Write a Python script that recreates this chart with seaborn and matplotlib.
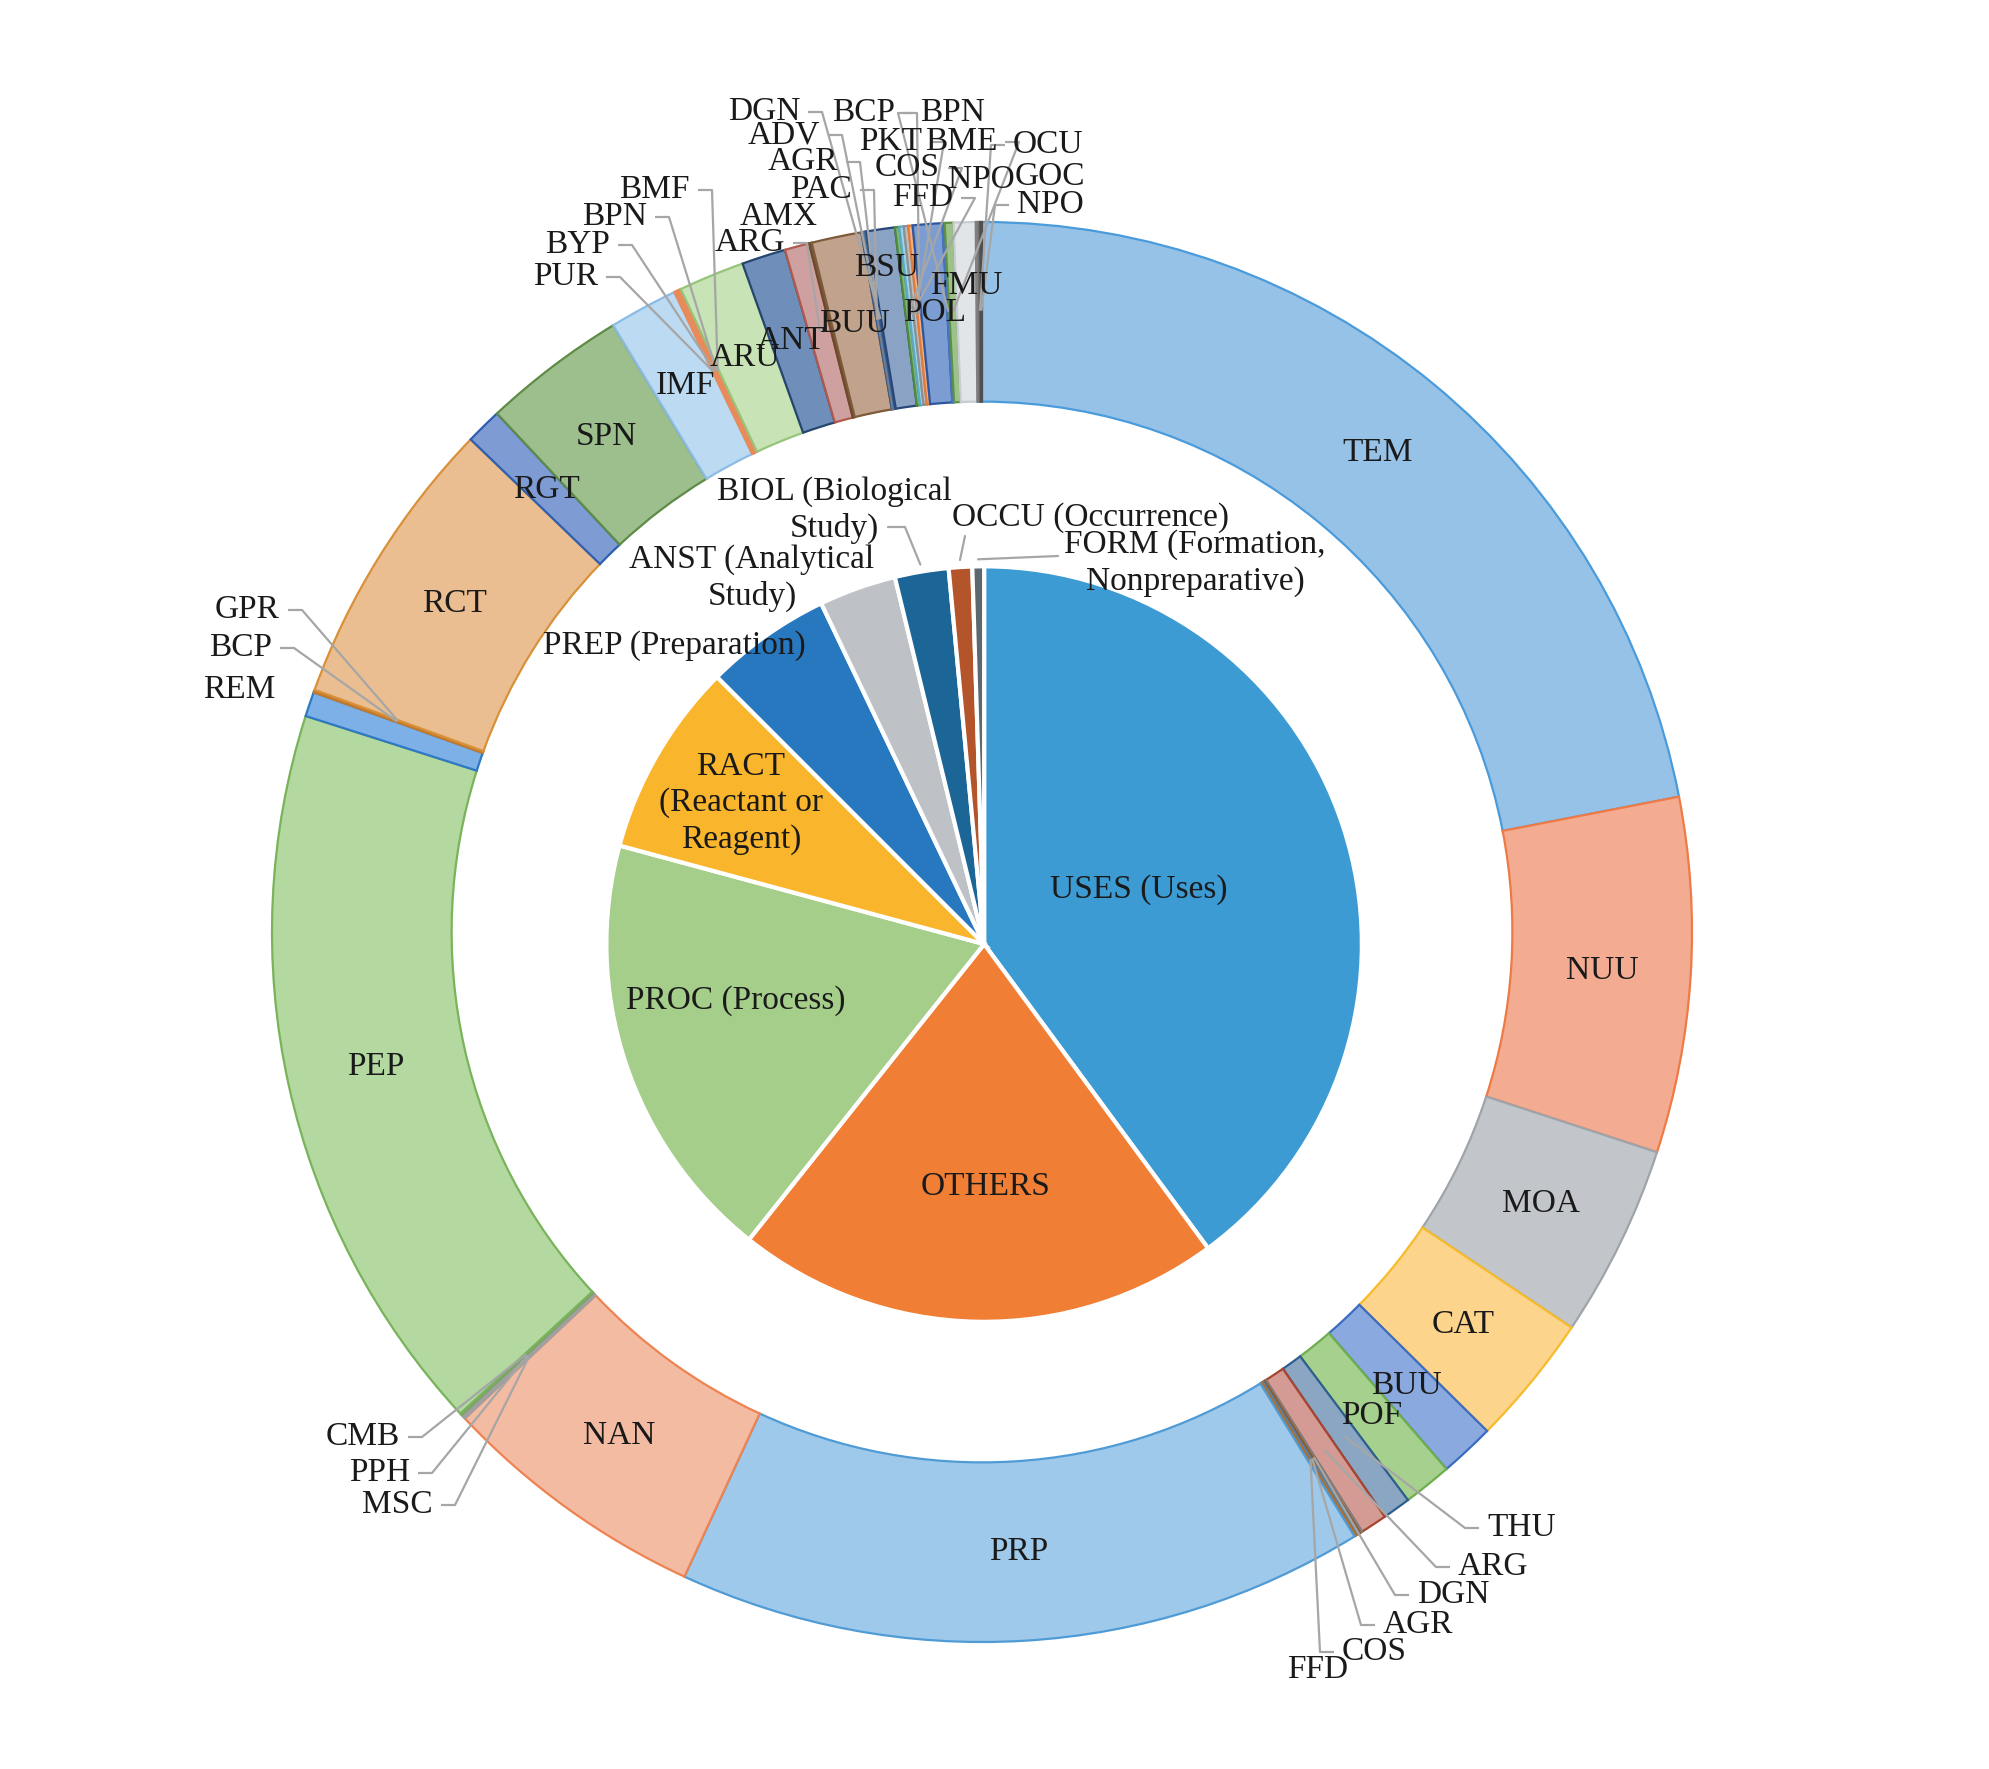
import numpy as np
import matplotlib
matplotlib.use("Agg")
import matplotlib.pyplot as plt
import seaborn as sns

# ---- data: inner pie (CAS role, %) ----
inner_names = ["USES (Uses)", "OTHERS", "PROC (Process)", "RACT\n(Reactant or\nReagent)",
               "PREP (Preparation)", "ANST (Analytical\nStudy)", "BIOL (Biological\nStudy)",
               "OCCU (Occurrence)", "FORM (Formation,\nNonpreparative)"]
inner_vals = [39.9, 20.8, 18.5, 8.3, 5.4, 3.3, 2.3, 1.0, 0.5]

# ---- data: outer ring (section codes, %) ----
outer_codes = ["TEM", "NUU", "MOA", "CAT", "BUU", "POF", "THU", "ARG", "DGN", "AGR",
               "COS", "FFD", "PRP", "NAN", "MSC", "PPH", "CMB", "PEP", "REM", "BCP",
               "GPR", "RCT", "RGT", "SPN", "IMF", "PUR", "BYP", "BPN", "BMF", "ARU",
               "ANT", "ARG", "AMX", "BUU", "PAC", "AGR", "ADV", "DGN", "BSU", "COS",
               "FFD", "PKT", "BCP", "POL", "BPN", "BME", "FMU", "NPO", "GOC", "OCU",
               "NPO"]
outer_vals = [21.97, 8.08, 4.39, 3.0, 1.25, 1.11, 0.64, 0.61, 0.05, 0.05,
              0.05, 0.05, 15.69, 6.11, 0.05, 0.05, 0.05, 16.8, 0.56, 0.03,
              0.03, 6.67, 0.83, 3.28, 1.56, 0.04, 0.04, 0.04, 0.04, 1.5,
              1.0, 0.56, 0.06, 1.14, 0.03, 0.03, 0.03, 0.03, 0.64, 0.1,
              0.1, 0.1, 0.1, 0.67, 0.05, 0.2, 0.5, 0.035, 0.035, 0.035,
              0.035]

# ---- styles ----
inner_colors = ["#3D9BD4", "#F07E35", "#A4CE89", "#F9B52B", "#2878BF",
                "#BEC2C6", "#1B6597", "#B3542B", "#5D676E"]
outer_face = ["#97C2E7", "#F3AB92", "#C2C6CA", "#FDD48C", "#8AA9DF", "#A6D08E", "#8BA6C3", "#D49B95", "#A5A5A5", "#C0A080",
              "#9DB5CF", "#D9A066", "#9EC9EA", "#F4BBA3", "#BFBFBF", "#C8C8C8", "#B5C9A8", "#B3D8A0", "#7CB0E6", "#E0A060",
              "#D9A066", "#EBBE91", "#7E9CD3", "#9DBE8D", "#BCDAF2", "#F4B183", "#F4B183", "#F4B183", "#F4B183", "#C8E3B6",
              "#6F8FBA", "#CFA0A0", "#8C6A4C", "#C1A28C", "#8AA0BF", "#A5A5A5", "#9DB5CF", "#8AA0BF", "#8AA2C4", "#7FB77E",
              "#9FD3E6", "#BFBFBF", "#F4B183", "#7C9DD2", "#A9BCD9", "#9CC28A", "#E2E5E8", "#BFBFBF", "#A5A5A5", "#8F8F8F",
              "#6F6F6F"]
outer_edge = ["#4A9BDB", "#EE7A45", "#9EA4AA", "#F6BB2A", "#3C6CC0", "#6EAE4E", "#2F5F8F", "#A9442E", "#7F7F7F", "#8C5A2B",
              "#5B7FA8", "#B0702A", "#4F9BD6", "#EE8352", "#A0A0A0", "#A0A0A0", "#7FA36B", "#79B35A", "#2F78C4", "#C47A2C",
              "#C47A2C", "#D99139", "#2F5FB0", "#5E8C47", "#8CBCE6", "#E98A5A", "#E98A5A", "#E98A5A", "#E98A5A", "#96C57A",
              "#24466F", "#B05A4E", "#6B4A2B", "#7D5B3A", "#3A5A88", "#7F7F7F", "#5B7FA8", "#3A5A88", "#27477A", "#4E8A3E",
              "#5BA9C9", "#8F8F8F", "#E07B39", "#2D55A0", "#4472C4", "#5E8F45", "#C8CCD0", "#7F7F7F", "#7F7F7F", "#6F6F6F",
              "#4F4F4F"]

# ---- layout (pixel positions in the 1989x1769 canvas) ----
W, H = 1989, 1769
CX, CY, R = 982, 932, 710          # ring centre and outer radius
RING_W = 0.253
PIE_C = (0.003, -0.017)
PIE_R = 0.532

# outside labels of the ring: (x, y, side) ; side r/l = leader from right/left, n* = no leader
outer_place = [None, None, None, None, None, None,
               (1487, 1528, "l"), (1458, 1567, "l"), (1417, 1595, "l"), (1383, 1625, "l"),
               (1342, 1652, "l"), (1287, 1670, "nl"), None, None,
               (433, 1505, "r"), (410, 1473, "r"), (400, 1437, "r"), None,
               (275, 690, "nr"), (272, 648, "r"), (280, 610, "r"), None, None, None, None,
               (598, 277, "r"), (610, 245, "r"), (647, 217, "r"), (690, 190, "r"), None,
               None, (785, 243, "r"), (818, 217, "nr"), None,
               (852, 190, "r"), (838, 162, "r"), (820, 135, "r"), (800, 112, "r"), None,
               (940, 168, "r"), (953, 198, "r"), (922, 142, "r"), (895, 113, "r"), None,
               (920, 113, "l"), (997, 142, "r"), None,
               (1015, 180, "nr"), (1015, 177, "nl"), (1013, 145, "l"), (1017, 205, "l")]
inside_r = {38: 0.945, 46: 0.91}

inner_place = [(1139, 890), (986, 1187), (736, 1001), (741, 803), (674, 646),
               (752, 578), (834, 510), (1090, 518), (1195, 563)]
inner_leader = {6: [(888, 527), (905, 527)], 7: [(965, 536)], 8: [(1058, 556)]}


def to_xy(px, py):
    return (px - CX) / R, (CY - py) / R


def mid_angles(vals):
    v = np.asarray(vals, dtype=float)
    frac = (np.cumsum(v) - v / 2) / v.sum()
    return np.deg2rad(90 - 360 * frac)


sns.set_theme(style="white")
plt.rcParams["font.family"] = ["Liberation Serif", "DejaVu Serif"]
FS = 24
TXT = "#1A1A1A"
LEAD = "#A6A6A6"

fig = plt.figure(figsize=(W / 100, H / 100), dpi=100)
fig.patch.set_facecolor("white")
ax = fig.add_axes([0, 0, 1, 1])

# outer ring
wedges, _ = ax.pie(outer_vals, radius=1.0, startangle=90, counterclock=False,
                   colors=outer_face, wedgeprops=dict(width=RING_W, linewidth=1.6))
for w, ec in zip(wedges, outer_edge):
    w.set_edgecolor(ec)

# inner pie
ax.pie(inner_vals, radius=PIE_R, center=PIE_C, startangle=90, counterclock=False,
       colors=inner_colors, wedgeprops=dict(linewidth=3, edgecolor="white"))

# ring labels
ang = mid_angles(outer_vals)
for i, code in enumerate(outer_codes):
    place = outer_place[i]
    tx, ty = 0.875 * np.cos(ang[i]), 0.875 * np.sin(ang[i])
    if place is None:
        rr = inside_r.get(i, 0.875)
        ax.text(rr * np.cos(ang[i]), rr * np.sin(ang[i]), code, fontsize=FS,
                ha="center", va="center", color=TXT, zorder=5)
        continue
    px, py, side = place
    x, y = to_xy(px, py)
    ha = "right" if side.endswith("r") else "left"
    ax.text(x, y, code, fontsize=FS, ha=ha, va="center", color=TXT, zorder=6)
    if side.startswith("n"):
        continue
    s = 1 if side == "r" else -1
    x0, _ = to_xy(px + s * 8, py)
    x1, _ = to_xy(px + s * 22, py)
    ax.plot([x0, x1, tx], [y, y, ty], color=LEAD, lw=1.6, zorder=4,
            solid_capstyle="butt")

# inner pie labels
ang_in = mid_angles(inner_vals)
for i, name in enumerate(inner_names):
    x, y = to_xy(*inner_place[i])
    ax.text(x, y, name, fontsize=FS, ha="center", va="center", color=TXT,
            linespacing=1.25, multialignment="center", zorder=6)
    if i in inner_leader:
        pts = [to_xy(*p) for p in inner_leader[i]]
        tx = PIE_C[0] + (PIE_R + 0.01) * np.cos(ang_in[i])
        ty = PIE_C[1] + (PIE_R + 0.01) * np.sin(ang_in[i])
        xs = [p[0] for p in pts] + [tx]
        ys = [p[1] for p in pts] + [ty]
        ax.plot(xs, ys, color=LEAD, lw=1.6, zorder=4)

x_lo, y_hi = to_xy(0, 0)
x_hi, y_lo = to_xy(W, H)
ax.set_xlim(x_lo, x_hi)
ax.set_ylim(y_lo, y_hi)
ax.set_aspect("equal")
ax.axis("off")

fig.savefig("out.png", dpi=100, facecolor="white")
